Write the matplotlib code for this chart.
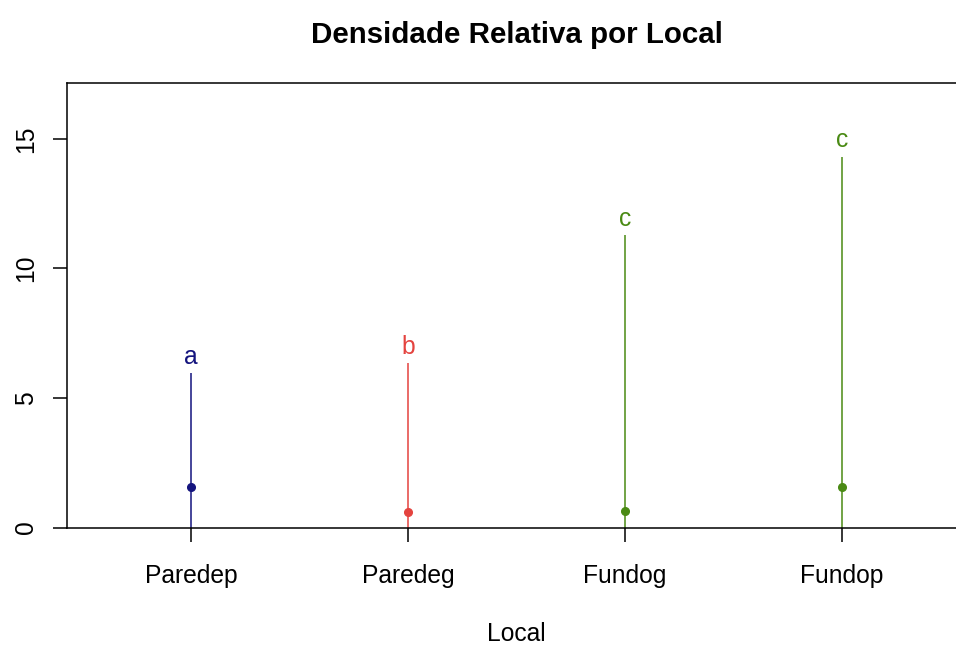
import matplotlib.pyplot as plt

locais = ["Paredep", "Paredeg", "Fundog", "Fundop"]
media = [1.58, 0.61, 0.64, 1.58]
limite_superior = [5.95, 6.34, 11.29, 14.32]
letras = ["a", "b", "c", "c"]
cores = ["#14147e", "#e4433f", "#4a8a14", "#4a8a14"]


def plot_densidade():
    plt.rcParams["font.family"] = ["Liberation Sans", "DejaVu Sans"]
    fs = 17.7

    fig = plt.figure(figsize=(9.56, 6.48), dpi=100)
    # axes runs a bit past the right edge of the figure
    ax = fig.add_axes([67 / 956, 120.5 / 648, 899 / 956, 444.8 / 648])

    x = list(range(len(locais)))
    for i in x:
        ax.vlines(x[i], 0, limite_superior[i], color=cores[i], linewidth=1.1)
        ax.plot(x[i], media[i], "o", color=cores[i], markersize=5.5, zorder=3)
        ax.annotate(
            letras[i],
            (x[i], limite_superior[i]),
            xytext=(0, 6.7),
            textcoords="offset points",
            ha="center",
            va="baseline",
            color=cores[i],
            fontsize=fs,
        )

    ax.set_xlim(-0.571, 3.571)
    ax.set_ylim(0, 17.17)
    ax.set_xticks(x)
    ax.set_xticklabels(locais)
    ax.set_yticks([0, 5, 10, 15])

    for s in ax.spines.values():
        s.set_linewidth(1.1)
    ax.tick_params(axis="both", direction="out", length=10, width=1.1, labelsize=fs, colors="black")
    ax.tick_params(axis="x", pad=16)
    ax.tick_params(axis="y", pad=11)
    for lab in ax.get_yticklabels():
        lab.set_rotation(90)
        lab.set_va("center")

    ax.set_xlabel("Local", fontsize=fs, labelpad=25)
    ax.set_title("Densidade Relativa por Local", fontsize=fs * 1.2, fontweight="bold", pad=28.6)

    plt.savefig("out.png", dpi=100)


if __name__ == "__main__":
    plot_densidade()
